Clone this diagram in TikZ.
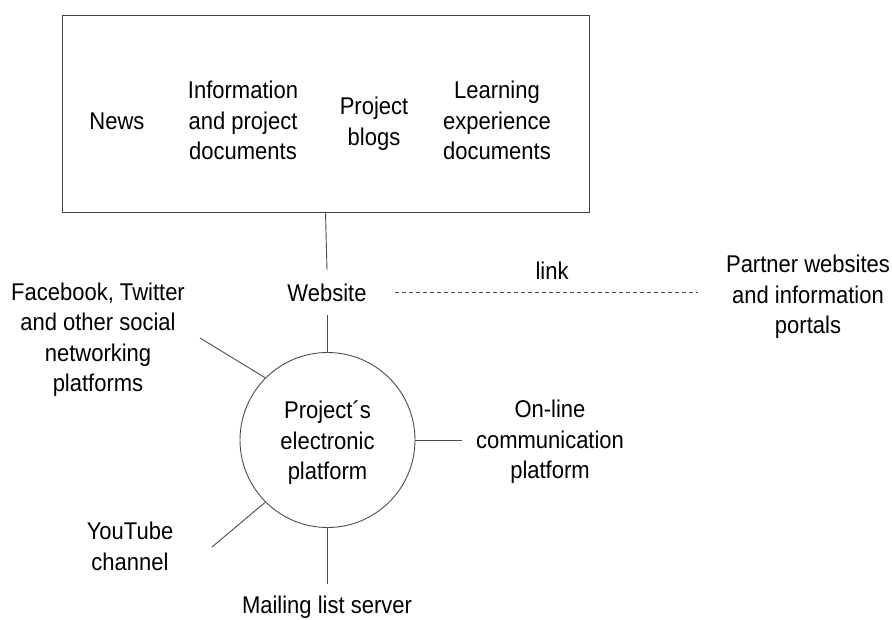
\documentclass[tikz,border=0pt]{standalone}
\usepackage{fontspec}
\usepackage{graphicx}
\setmainfont{Liberation Sans}
\newcommand{\tx}[1]{\scalebox{1}[1.1]{\begin{tabular}{@{}c@{}}#1\end{tabular}}}
\begin{document}
\begin{tikzpicture}[x=1pt,y=-1pt,
  lbl/.style={align=center,inner sep=0pt,font=\fontsize{22}{27.8}\selectfont},
  conn/.style={draw=black!70,line width=0.9pt},
  frame/.style={draw=black!75,line width=1pt,minimum width=527pt,minimum height=197pt,inner sep=0pt},
  hub/.style={circle,draw=black!70,line width=0.9pt,minimum size=175pt,inner sep=0pt}]
\useasboundingbox (0,0) rectangle (892,619);
\node[frame] (box) at (325.5,113.5) {};
\node[lbl] (news) at (117,123) {\tx{News}};
\node[lbl] (info) at (243,123) {\tx{Information\\and project\\documents}};
\node[lbl] (blogs) at (374,124) {\tx{Project\\blogs}};
\node[lbl] (learn) at (497,123) {\tx{Learning\\experience\\documents}};
\node[lbl] (web) at (327,295) {\tx{Website}};
\node[hub] (plat) at (327.5,440) {};
\node[lbl] (platt) at (327.5,443) {\tx{Project´s\\electronic\\platform}};
\node[lbl] (fb) at (98,340) {\tx{Facebook, Twitter\\and other social\\networking\\platforms}};
\node[lbl] (yt) at (130,549) {\tx{YouTube\\channel}};
\node[lbl] (mail) at (327,607) {\tx{Mailing list server}};
\node[lbl] (online) at (550,442) {\tx{On-line\\communication\\platform}};
\node[lbl] (link) at (552,273) {\tx{link}};
\node[lbl] (partner) at (808,297) {\tx{Partner websites\\and information\\portals}};
\coordinate (webtop) at (327,270);
\coordinate (webbot) at (327.5,315);
\coordinate (fbend) at (200,338);
\coordinate (ytend) at (212,547);
\coordinate (mailend) at (327.5,584);
\coordinate (onend) at (462,440);
\coordinate (dashA) at (395,292);
\coordinate (dashB) at (698,292);
\draw[conn] (box.south) -- (webtop);
\draw[conn] (webbot) -- (plat.north);
\draw[conn] (fbend) -- (plat.135);
\draw[conn] (ytend) -- (plat.225);
\draw[conn] (plat.south) -- (mailend);
\draw[conn] (plat.east) -- (onend);
\draw[conn,dash pattern=on 4pt off 3pt,line width=0.7pt] (dashA) -- (dashB);
\end{tikzpicture}
\end{document}
